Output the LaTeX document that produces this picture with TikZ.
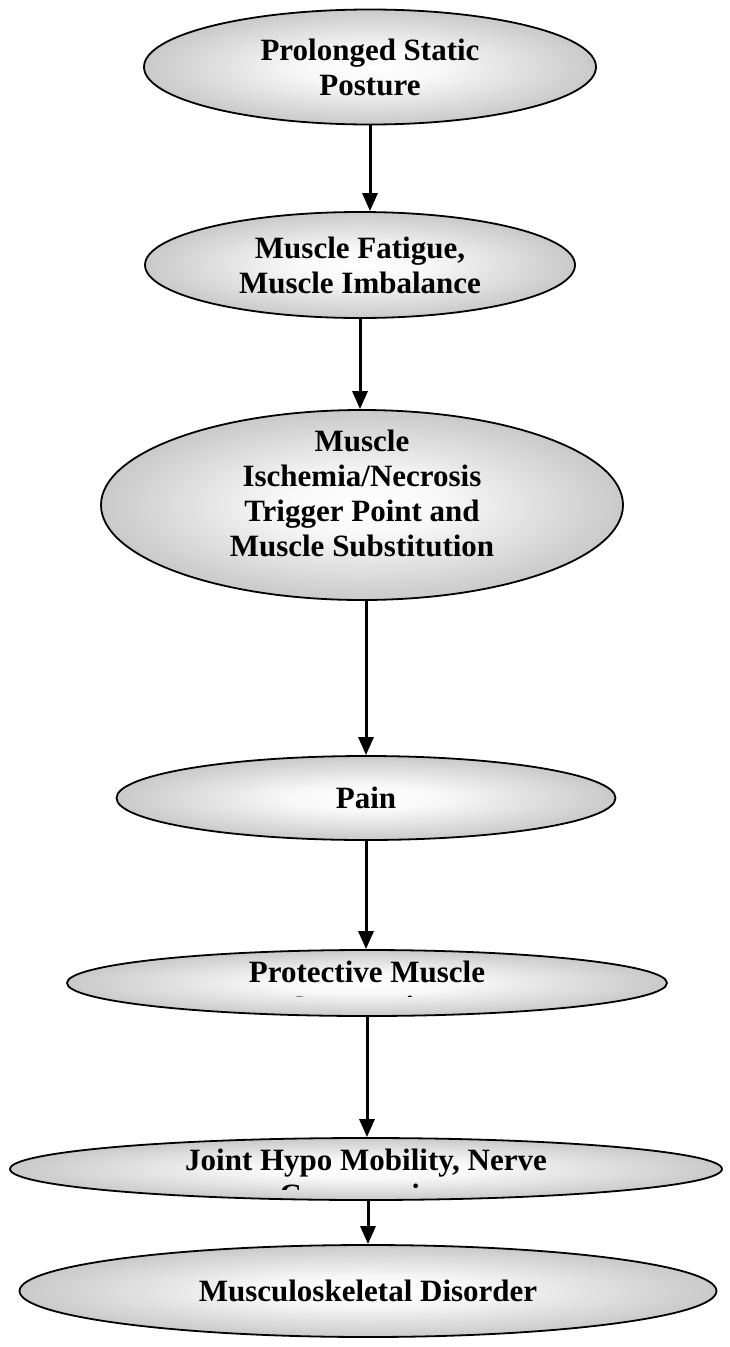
\documentclass[tikz,border=0pt]{standalone}
\usepackage{fontspec}
\setmainfont{Liberation Serif}
\usetikzlibrary{shapes.geometric,arrows.meta}
\pgfdeclareradialshading{ovalshade}{\pgfpoint{0bp}{0bp}}{color(0bp)=(white);color(8bp)=(white!97!black);color(25bp)=(black!21);color(50bp)=(black!21)}
\begin{document}
\begin{tikzpicture}[x=1pt,y=-1pt,
  oval/.style={ellipse,draw=black,line width=1.8pt,inner sep=0pt,shading=ovalshade},
  txt/.style={font=\bfseries\fontsize{31}{35}\selectfont,align=center,inner sep=0pt},
  arr/.style={line width=3pt,-{Triangle[length=18pt,width=15pt]}}]
\useasboundingbox (0,0) rectangle (729,1347);
\node[oval,minimum width=452pt,minimum height=115pt,
  label={[txt]center:Prolonged Static\\Posture}] (e1) at (370,67) {};
\node[oval,minimum width=430pt,minimum height=106pt,
  label={[txt]center:Muscle Fatigue,\\Muscle Imbalance}] (e2) at (360,265) {};
\node[oval,minimum width=522pt,minimum height=190pt,
  label={[txt,yshift=12pt]center:Muscle\\Ischemia/Necrosis\\Trigger Point and\\Muscle Substitution}] (e3) at (362,505) {};
\node[oval,minimum width=499pt,minimum height=84pt,
  label={[txt]center:Pain}] (e4) at (366,798) {};
\node[oval,minimum width=600pt,minimum height=66pt] (e5) at (367,983) {};
\node[oval,minimum width=712pt,minimum height=62pt] (e6) at (366,1169) {};
\node[oval,minimum width=697pt,minimum height=92pt,
  label={[txt]center:Musculoskeletal Disorder}] (e7) at (368,1291) {};
\begin{scope}
  \clip (0,940) rectangle (729,996.5);
  \node[txt] (t5) at ([yshift=-6pt]e5.center) {Protective Muscle\\Contraction};
\end{scope}
\begin{scope}
  \clip (0,1130) rectangle (729,1189);
  \node[txt] (t6) at ([yshift=-12pt]e6.center) {Joint Hypo Mobility, Nerve\\Compression};
\end{scope}
\draw[arr] (e1.south) -- (e1.south |- e2.north);
\draw[arr] (e2.south) -- (e2.south |- e3.north);
\draw[arr] (e4.north |- e3.south) -- (e4.north);
\draw[arr] (e4.south) -- (e4.south |- e5.north);
\draw[arr] (e5.south) -- (e5.south |- e6.north);
\draw[arr] (e7.north |- e6.south) -- (e7.north);
\end{tikzpicture}
\end{document}
